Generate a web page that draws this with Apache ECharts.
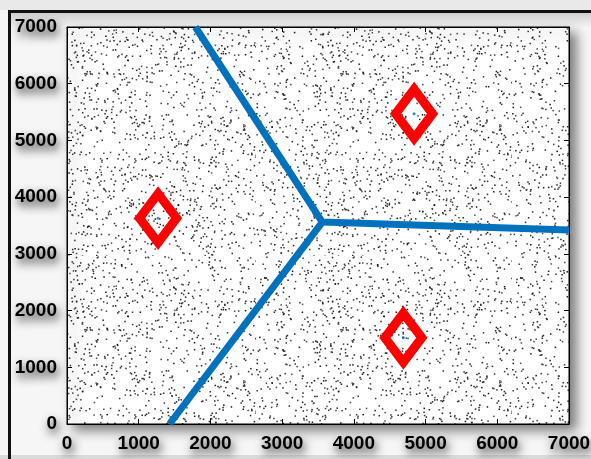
<!DOCTYPE html>
<html>
<head>
<meta charset="utf-8">
<style>
  html, body { margin: 0; padding: 0; background: #f6f6f6; }
  #chart { width: 591px; height: 459px; }
</style>
<script src="https://cdn.jsdelivr.net/npm/echarts@6/dist/echarts.min.js"></script>
</head>
<body>
<div id="chart"></div>
<script>
// Axis range and tick spacing (both axes)
const axisMin = 0;
const axisMax = 7000;
const tickStep = 1000;

// Cluster centres
const centreX = [1270, 4840, 4690];
const centreY = [3630, 5470, 1520];

// Region boundaries: three edges leaving one shared vertex
const vertex = [3560, 3560];
const edgeEndX = [1790, 7000, 1430];
const edgeEndY = [7000, 3420, 0];

// Speckled background texture for the sample cloud
function speckleTile(size, density) {
  const c = document.createElement('canvas');
  c.width = c.height = size;
  const g = c.getContext('2d');
  g.fillStyle = '#ffffff';
  g.fillRect(0, 0, size, size);
  let s = 20240917 >>> 0;
  const next = () => {
    s = (s + 0x6D2B79F5) >>> 0;
    let t = s;
    t = Math.imul(t ^ (t >>> 15), t | 1);
    t ^= t + Math.imul(t ^ (t >>> 7), t | 61);
    return ((t ^ (t >>> 14)) >>> 0) / 4294967296;
  };
  const n = Math.round(size * size * density);
  for (let i = 0; i < n; i++) {
    const x = next() * size, y = next() * size;
    const shade = 20 + Math.floor(next() * 60);
    g.fillStyle = 'rgb(' + shade + ',' + shade + ',' + shade + ')';
    g.fillRect(x, y, 1.5, 1.5);
  }
  return c;
}

const labelFont = {
  color: '#000',
  fontFamily: '"Liberation Sans", Arial, Helvetica, sans-serif',
  fontWeight: 'bold',
  fontSize: 19,
  margin: 10,
  formatter: (v) => String(v),
  textShadowColor: 'rgba(0,0,0,0.85)',
  textShadowBlur: 10,
  textShadowOffsetX: 2,
  textShadowOffsetY: 5
};

function makeAxis(position, showLabels) {
  return {
    type: 'value',
    position: position,
    min: axisMin,
    max: axisMax,
    interval: tickStep,
    axisLine: { show: true, onZero: false, lineStyle: { color: '#000', width: 1 } },
    axisTick: { show: true, inside: true, length: 5, lineStyle: { color: '#000', width: 1 } },
    axisLabel: Object.assign({ show: showLabels }, labelFont),
    splitLine: { show: false }
  };
}

const blue = '#0072BD';
const centres = centreX.map((x, i) => [x, centreY[i]]);
const ends = edgeEndX.map((x, i) => [x, edgeEndY[i]]);

// Hollow diamond marker drawn around each centre (size in pixels)
const markerHalfW = 18.5, markerHalfH = 24.5, markerStroke = 9;
function renderDiamond(params, api) {
  const p = api.coord([api.value(0), api.value(1)]);
  return {
    type: 'polygon',
    shape: { points: [
      [p[0], p[1] - markerHalfH],
      [p[0] + markerHalfW, p[1]],
      [p[0], p[1] + markerHalfH],
      [p[0] - markerHalfW, p[1]]
    ] },
    style: { fill: null, stroke: '#ff0000', lineWidth: markerStroke, lineJoin: 'miter', miterLimit: 10 }
  };
}

const chart = echarts.init(document.getElementById('chart'), null, { renderer: 'canvas' });
chart.setOption({
  animation: false,
  backgroundColor: '#f6f6f6',
  graphic: [
    { type: 'rect', shape: { x: 0, y: 0, width: 591, height: 10 }, style: { fill: '#e9e9e9' }, z: -10 },
    { type: 'rect', shape: { x: 11, y: 13, width: 580, height: 14 },
      style: { fill: new echarts.graphic.LinearGradient(0, 0, 0, 1, [
        { offset: 0, color: '#cfcfcf' }, { offset: 1, color: '#f4f4f4' }]) }, z: -10 },
    { type: 'rect', shape: { x: 0, y: 455, width: 591, height: 4 }, style: { fill: '#dadada' }, z: -10 },
    { type: 'rect', shape: { x: 8, y: 10, width: 583, height: 3 }, style: { fill: '#111' }, z: 10 },
    { type: 'rect', shape: { x: 8, y: 10, width: 3, height: 449 }, style: { fill: '#111' }, z: 10 }
  ],
  grid: {
    left: 67, right: 22, top: 27, bottom: 35,
    containLabel: false,
    outerBoundsMode: 'none',
    show: true,
    backgroundColor: { image: speckleTile(256, 0.026), repeat: 'repeat' },
    borderColor: '#000',
    borderWidth: 1,
    shadowColor: 'rgba(0,0,0,0.5)',
    shadowBlur: 12,
    shadowOffsetX: 7,
    shadowOffsetY: 6
  },
  xAxis: [makeAxis('bottom', true), makeAxis('top', false)],
  yAxis: [makeAxis('left', true), makeAxis('right', false)],
  series: [
    {
      type: 'line',
      data: [ends[0], vertex, ends[1]],
      symbol: 'none',
      lineStyle: { color: blue, width: 7, cap: 'butt', join: 'round' },
      z: 3
    },
    {
      type: 'line',
      data: [vertex, ends[2]],
      symbol: 'none',
      lineStyle: { color: blue, width: 7, cap: 'butt', join: 'round' },
      z: 3
    },
    {
      type: 'custom',
      data: centres,
      renderItem: renderDiamond,
      clip: false,
      z: 4
    },
    {
      type: 'scatter',
      data: centres,
      symbol: 'circle',
      symbolSize: 3,
      itemStyle: { color: blue },
      z: 5
    }
  ]
});
</script>
</body>
</html>
